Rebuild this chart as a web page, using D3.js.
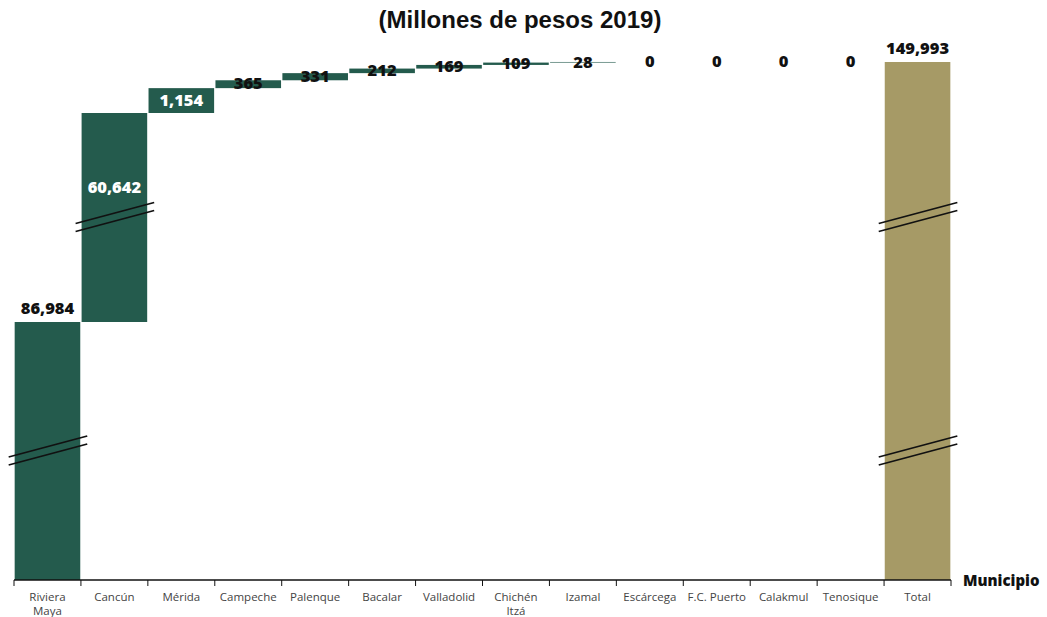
<!DOCTYPE html>
<html>
<head>
<meta charset="utf-8">
<script src="https://cdn.jsdelivr.net/npm/d3@7"></script>
<style>
  body { margin: 0; background: #fff; }
</style>
</head>
<body>
<div id="chart"></div>
<script>
// categorias y valores (millones de pesos 2019)
const municipios = ["Riviera Maya", "Cancún", "Mérida", "Campeche", "Palenque", "Bacalar",
  "Valladolid", "Chichén Itzá", "Izamal", "Escárcega", "F.C. Puerto", "Calakmul", "Tenosique", "Total"];
const valores = [86984, 60642, 1154, 365, 331, 212, 169, 109, 28, 0, 0, 0, 0];
const total = 149993;
const etiquetas = [["Riviera", "Maya"], ["Cancún"], ["Mérida"], ["Campeche"], ["Palenque"], ["Bacalar"],
  ["Valladolid"], ["Chichén", "Itzá"], ["Izamal"], ["Escárcega"], ["F.C. Puerto"], ["Calakmul"], ["Tenosique"], ["Total"]];

const width = 1047, height = 617;
const svg = d3.select("#chart").append("svg")
  .attr("width", width).attr("height", height)
  .attr("viewBox", [0, 0, width, height]);

// build waterfall rows
let acc = 0;
const rows = valores.map((v, i) => {
  const r = {name: municipios[i], start: acc, end: acc + v, value: v, total: false};
  acc += v;
  return r;
});
rows.push({name: "Total", start: 0, end: total, value: total, total: true});

const x = d3.scaleBand().domain(municipios).range([14, 951]).paddingInner(0.02).paddingOuter(0.01);

// eje quebrado: escala por tramos
const y = d3.scaleLinear()
  .domain([0, valores[0], valores[0] + valores[1], total])
  .range([580, 322, 113, 62]);

const green = "#245b4d", gold = "#a69a66";

svg.selectAll("rect.bar").data(rows).join("rect")
  .attr("class", "bar")
  .attr("x", d => x(d.name))
  .attr("width", x.bandwidth())
  .attr("y", d => y(d.end))
  .attr("height", d => Math.max(0, y(d.start) - y(d.end)))
  .attr("fill", d => d.total ? gold : green);

const fmt = d3.format(",");
const lblFont = "'Open Sans', sans-serif";

svg.selectAll("text.val").data(rows).join("text")
  .attr("class", "val")
  .attr("x", d => x(d.name) + x.bandwidth() / 2)
  .attr("y", (d, i) => {
    if (i === 0 || d.total) return y(d.end) - 8;
    if (i === 1) return y(d.end) + 74;
    return (y(d.start) + y(d.end)) / 2 - 0.5;
  })
  .attr("dy", (d, i) => (i === 0 || d.total) ? 0 : "0.35em")
  .attr("text-anchor", "middle")
  .style("font-family", lblFont)
  .style("font-weight", 800)
  .style("font-size", "16.5px")
  .style("fill", (d, i) => (i === 1 || i === 2) ? "#fff" : "#111")
  .text(d => fmt(d.value));

// marcas de quiebre
const brk = [
  {name: "Riviera Maya", v: valores[0] / 2},
  {name: "Cancún", v: valores[0] + valores[1] / 2},
  {name: "Total", v: valores[0] + valores[1] / 2},
  {name: "Total", v: valores[0] / 2}
];
brk.forEach(b => {
  const x0 = x(b.name) - 6, x1 = x(b.name) + x.bandwidth() + 7;
  const yc = y(b.v);
  [-4, 4].forEach(o => {
    svg.append("line")
      .attr("x1", x0).attr("y1", yc + 10 + o)
      .attr("x2", x1).attr("y2", yc - 11 + o)
      .attr("stroke", "#111").attr("stroke-width", 1.8);
  });
});

// eje x
const gx = svg.append("g").attr("transform", "translate(0,580)");
gx.append("line").attr("x1", 14).attr("x2", 951).attr("stroke", "#111").attr("stroke-width", 1.5);
const bounds = municipios.map(m => x(m) - x.step() * x.paddingInner() / 2).concat([951]);
gx.selectAll("line.tick").data(bounds).join("line")
  .attr("class", "tick")
  .attr("x1", d => d).attr("x2", d => d)
  .attr("y1", 0).attr("y2", 6)
  .attr("stroke", "#111").attr("stroke-width", 1);

const cat = gx.selectAll("text.cat").data(municipios).join("text")
  .attr("class", "cat")
  .attr("x", d => x(d) + x.bandwidth() / 2)
  .attr("y", 21)
  .attr("text-anchor", "middle")
  .style("font-family", lblFont)
  .style("font-size", "11.5px")
  .style("fill", "#444");
cat.each(function(d, i) {
  d3.select(this).selectAll("tspan").data(etiquetas[i]).join("tspan")
    .attr("x", x(d) + x.bandwidth() / 2)
    .attr("dy", (t, j) => j === 0 ? 0 : 14)
    .text(t => t);
});

svg.append("text")
  .attr("x", 963).attr("y", 586)
  .style("font-family", lblFont)
  .style("font-weight", 800)
  .style("font-size", "15px")
  .style("fill", "#111")
  .text("Municipio");

// titulo
svg.append("text")
  .attr("x", 520).attr("y", 28)
  .attr("text-anchor", "middle")
  .style("font-family", "'Liberation Sans', Arial, sans-serif")
  .style("font-weight", 700)
  .style("font-size", "24px")
  .style("fill", "#111")
  .text("(Millones de pesos 2019)");
</script>
</body>
</html>
